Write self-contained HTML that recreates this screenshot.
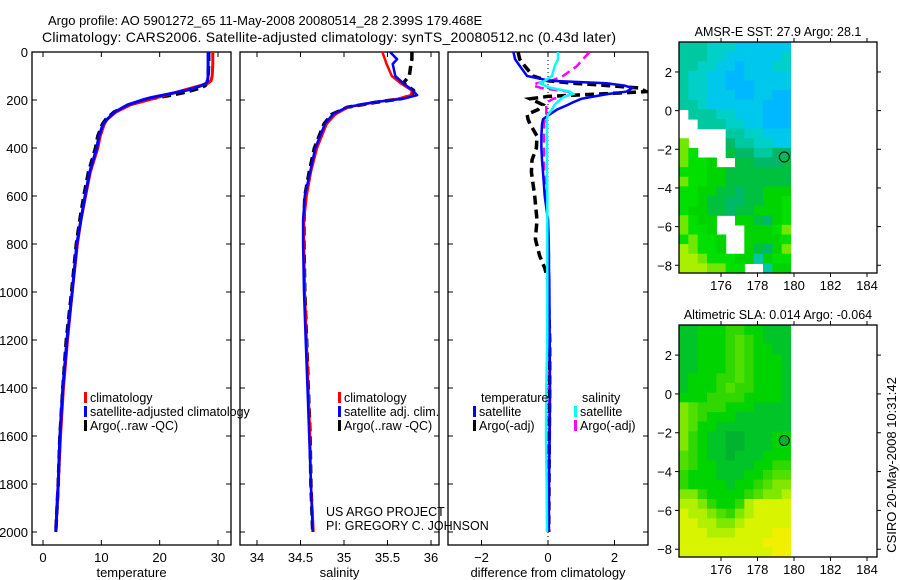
<!DOCTYPE html>
<html><head><meta charset="utf-8"><style>
html,body{margin:0;padding:0;background:#fff;}
svg{display:block;font-family:"Liberation Sans",sans-serif;}
</style></head><body>
<svg id="fig" width="900" height="580" viewBox="0 0 900 580" xmlns="http://www.w3.org/2000/svg">
<text x="48" y="25" font-size="13">Argo profile: AO 5901272_65 11-May-2008 20080514_28 2.399S 179.468E</text>
<text x="42" y="42" font-size="14" textLength="574">Climatology: CARS2006. Satellite-adjusted climatology: synTS_20080512.nc (0.43d later)</text>
<g id="layer"></g>
</svg>
<script>
// ---- profile data ----
const depthT = [0,50,100,120,130,140,150,160,170,180,190,200,220,250,280,300,350,400,500,600,700,800,1000,1200,1400,1600,1800,2000];
const tempClim = [29.1,29.1,29.0,28.8,28.3,27.0,25.5,24.0,22.5,21,19.5,18.0,15.0,12.5,11.0,10.5,9.8,9.4,8.1,7.3,6.5,5.9,5.0,4.2,3.5,3.0,2.6,2.2];
const tempSat = [28.3,28.3,28.3,28.2,28.0,27.2,26.0,24.5,22.5,20.5,18.5,17.0,14.5,12.3,11.0,10.3,9.6,9.2,8.0,7.2,6.5,5.8,5.0,4.1,3.4,2.9,2.6,2.2];
const tempArgo = [28.4,28.4,28.3,28.2,28.1,27.8,27.0,25.5,24.0,22.0,19.5,17.5,14.8,12.2,10.8,10.2,9.4,9.0,7.8,7.0,6.3,5.7,4.9,4.0,3.4,2.9,2.6,2.2];
const depthS = [0,30,50,100,130,160,180,195,210,230,260,300,400,500,600,700,800,1000,1200,1400,1600,1800,2000];
const salClim = [35.44,35.47,35.49,35.55,35.65,35.78,35.77,35.62,35.35,35.05,34.90,34.80,34.69,34.62,34.57,34.54,34.54,34.55,34.57,34.59,34.61,34.62,34.65];
const salSat = [35.53,35.61,35.56,35.59,35.68,35.79,35.84,35.68,35.33,35.03,34.87,34.78,34.67,34.61,34.55,34.53,34.53,34.54,34.56,34.58,34.60,34.62,34.64];
const salArgo = [35.78,35.78,35.77,35.75,35.68,35.80,35.78,35.65,35.36,35.04,34.86,34.77,34.66,34.60,34.55,34.54,34.54,34.55,34.57,34.59,34.61,34.62,34.64];
const depthD = [0,30,60,100,120,130,140,150,165,175,185,195,210,220,240,260,280,300,350,400,450,500,600,700,780,850,900,950,1200,1400,1600,1800,2000];
const dTsat = [-1.04,-0.99,-0.84,-0.63,0.06,1.76,2.3,2.54,2.36,1.8,1.4,1.0,0.75,0.6,0.27,0.05,-0.15,-0.18,-0.2,-0.2,-0.18,-0.15,-0.1,0,0.02,0.03,0.03,0.04,0.05,0.06,0.05,0.03,0.02];
const dTargo = [-0.9,-0.85,-0.69,-0.45,0,0.75,1.8,2.75,2.95,1.55,0,-0.54,-0.3,-0.15,-0.3,-0.63,-0.6,-0.54,-0.33,-0.35,-0.48,-0.5,-0.4,-0.33,-0.38,-0.25,-0.1,0,0.05,0.05,0.04,0.03,0.02];
const dSsat = [0.3,0.3,0.2,0.12,-0.1,-0.24,-0.1,0.1,0.66,0.75,0.5,0.4,0.27,0.2,0.12,0.0,-0.03,-0.03,-0.03,-0.03,-0.03,-0.03,-0.02,-0.02,-0.02,-0.02,-0.02,-0.02,-0.02,-0.05,-0.06,-0.04,-0.03];
const dSargo = [1.25,1.05,0.86,0.45,0.1,-0.33,-0.45,-0.2,0.6,0.75,0.5,0.15,-0.03,-0.05,-0.05,-0.05,-0.1,-0.12,-0.12,-0.12,-0.12,-0.12,-0.05,0,0,0,0,0.02,0.02,0.03,0.03,0.03,0.03];
const depthTicks = [0,200,400,600,800,1000,1200,1400,1600,1800,2000];
const tempTicks = [0,10,20,30];
const salTicks = [34,34.5,35,35.5,36];
const diffTicks = [-2,0,2];
// ---- map data (rows top->bottom, '.' = no data) ----
const sstRows = [
"666777888888","666778888887","667788988877","677889988888","677889998888","677888998899",
"667888888999",".66677888999","..6667788999",".....6677888","1....5667788","12...4556655",
"1223..445554","222334444444","122334444444","223344544333","223445544332","233445443332",
"1233..334532","1223...33321","21223..33332","01223..34531","001222336322","0001122..633"];
const slaRows = [
"776665566777","776665456777","776665456677","776665456667","776665456667","766655456667",
"766654556667","666555566667","345556667777","345666777777","346677777777","356778877766",
"356778877766","456778777666","456677776655","566677766544","566667665433","335666654332",
"223566521111","122345321111","112233211111","111222111100","111111111000","111111111100"];
const latTicks = [2,0,-2,-4,-6,-8];
const lonTicks = [176,178,180,182,184];
const argoLon = [179.468];
const argoLat = [-2.399];

const NS="http://www.w3.org/2000/svg";
const layer=document.getElementById('layer');
function mk(tag,attrs,parent){const e=document.createElementNS(NS,tag);for(const k in attrs)e.setAttribute(k,attrs[k]);(parent||layer).appendChild(e);return e;}

const yD = d => 52 + d*0.24;
const panels = [
 {name:'temperature',x0:32,x1:231,f:v=>43+v*(175/30),ticks:tempTicks,label:'temperature'},
 {name:'salinity',x0:240,x1:439,f:v=>257+(v-34)*87,ticks:salTicks,label:'salinity'},
 {name:'difference',x0:448,x1:648,f:v=>548+v*33.25,ticks:diffTicks,label:'difference from climatology'}
];
const PT=52,PB=545;
panels.forEach((p,i)=>{
  const g=mk('g',{});
  
  
  const r=mk('rect',{x:p.x0,y:PT,width:p.x1-p.x0,height:PB-PT,fill:'none',stroke:'#000','stroke-width':1.3},g);
  
  
  p.ticks.forEach(t=>{
    const x=p.f(t);
    mk('line',{x1:x,y1:PT,x2:x,y2:PT+5,stroke:'#000'},g);
    mk('line',{x1:x,y1:PB,x2:x,y2:PB-5,stroke:'#000'},g);
    const tx=mk('text',{x:x,y:562,'font-size':13,'text-anchor':'middle'},g);
    tx.textContent=(t===-2?'\u22122':String(t));
    
    
  });
  depthTicks.forEach(d=>{
    const y=yD(d);
    mk('line',{x1:p.x0,y1:y,x2:p.x0+5,y2:y,stroke:'#000'},g);
    mk('line',{x1:p.x1,y1:y,x2:p.x1-5,y2:y,stroke:'#000'},g);
    if(i===0){
      const tx=mk('text',{x:28,y:y+5,'font-size':13,'text-anchor':'end'},g);
      tx.textContent=String(d);
      
      
    }
  });
  const lab=mk('text',{x:(p.x0+p.x1)/2,y:577,'font-size':13,'text-anchor':'middle'},g);
  lab.textContent=p.label;
  
  
});

function line(xs,ds,f,color,w,dash,name){
  const pts=xs.map((v,i)=>f(v).toFixed(1)+','+yD(ds[i]).toFixed(1)).join(' ');
  const a={points:pts,fill:'none',stroke:color,'stroke-width':w,'stroke-linejoin':'round'};
  if(dash)a['stroke-dasharray']=dash;
  const e=mk('polyline',a);
  
  
}
const P=panels;
line(tempArgo,depthT,P[0].f,'#000',3.5,'9,5','temp-argo-line');
line(tempClim,depthT,P[0].f,'#f00',3,null,'temp-climatology-line');
line(tempSat,depthT,P[0].f,'#00f',3,null,'temp-satellite-line');
line(salArgo,depthS,P[1].f,'#000',3.5,'9,5','sal-argo-line');
line(salClim,depthS,P[1].f,'#f00',2.5,null,'sal-climatology-line');
line(salSat,depthS,P[1].f,'#00f',2.5,null,'sal-satellite-line');
const zl=mk('line',{x1:548,y1:PT,x2:548,y2:PB,stroke:'#000','stroke-width':1,'stroke-dasharray':'1,3'});


const clip=mk('clipPath',{id:'cp3'});mk('rect',{x:448,y:52,width:200,height:493},clip);
const g3=mk('g',{'clip-path':'url(#cp3)'});
function line3(xs,ds,color,w,dash,name){
  const pts=xs.map((v,i)=>P[2].f(v).toFixed(1)+','+yD(ds[i]).toFixed(1)).join(' ');
  const a={points:pts,fill:'none',stroke:color,'stroke-width':w};
  if(dash)a['stroke-dasharray']=dash;
  const e=mk('polyline',a,g3);
  
  
}
line3(dSargo,depthD,'#f0f',2.5,'9,5','sal-diff-argo-line');
line3(dTargo,depthD,'#000',3.5,'9,5','temp-diff-argo-line');
line3(dTsat,depthD,'#00f',2.5,null,'temp-diff-satellite-line');
line3(dSsat,depthD,'#0ff',2.5,null,'sal-diff-satellite-line');

function leg(x,y,color,text,name){
  const g=mk('g',{});
  
  
  if(color) mk('rect',{x:x,y:y-10,width:3,height:11,fill:color},g);
  const t=mk('text',{x:x+(color?6:0),y:y,'font-size':12.5},g);t.textContent=text;
}
leg(84,402,'#f00','climatology','legend-temp-climatology');
leg(84,416,'#00f','satellite-adjusted climatology','legend-temp-satellite');
leg(84,430,'#000','Argo(..raw -QC)','legend-temp-argo');
leg(338,402,'#f00','climatology','legend-sal-climatology');
leg(338,416,'#00f','satellite adj. clim.','legend-sal-satellite');
leg(338,430,'#000','Argo(..raw -QC)','legend-sal-argo');
leg(481,402,null,'temperature','legend-temp-header');
leg(473,416,'#00f','satellite','legend-dtemp-satellite');
leg(473,430,'#000','Argo(-adj)','legend-dtemp-argo');
leg(582,402,null,'salinity','legend-sal-header');
leg(574,416,'#0ff','satellite','legend-dsal-satellite');
leg(574,430,'#f0f','Argo(-adj)','legend-dsal-argo');
leg(326,516,null,'US ARGO PROJECT','project-credit');
leg(326,530,null,'PI: GREGORY C. JOHNSON','pi-credit');

const sstCol=['#a8f000','#70e800','#00e000','#00d400','#00c040','#00b868','#00c8a0','#00d0c8','#00c8ec','#00b8ff'];
const slaCol=['#f0f000','#d8f400','#b0f000','#80e800','#50e000','#30d800','#00d400','#00c428','#00b430'];
function drawMap(top,bottom,rows,cols,title,name,circleFill){
  const L=679,R=877;
  const xL=lon=>721+(lon-176)*18.25;
  const lat2y=top+ (bottom-top)*((3.55-2)/11.95);
  const yL=lat=>lat2y-(lat-2)*((bottom-top)/11.95);
  const g=mk('g',{});
  
  
  const nr=rows.length,nc=rows[0].length;
  const x0=L,x1=791,cw=(x1-x0)/nc,ch=(bottom-top)/nr;
  rows.forEach((row,ri)=>{
    for(let ci=0;ci<nc;ci++){
      const c=row[ci];if(c==='.')continue;
      const w=(ci===nc-1)?cw:cw+0.6;
      const e=mk('rect',{x:(x0+ci*cw).toFixed(2),y:(top+ri*ch).toFixed(2),width:w.toFixed(2),height:(ch+0.6).toFixed(2),fill:cols[+c]},g);
      
      
    }
  });
  mk('rect',{x:L,y:top,width:R-L,height:bottom-top,fill:'none',stroke:'#000','stroke-width':1.3},g);
  latTicks.forEach(t=>{
    const y=yL(t);
    mk('line',{x1:L-4,y1:y,x2:L,y2:y,stroke:'#000'},g);
    mk('line',{x1:R,y1:y,x2:R+4,y2:y,stroke:'#000'},g);
    const tx=mk('text',{x:672,y:y+5,'font-size':13,'text-anchor':'end'},g);
    tx.textContent=t<0?'\u2212'+(-t):String(t);
    
    
  });
  lonTicks.forEach(t=>{
    const x=xL(t);
    mk('line',{x1:x,y1:top-4,x2:x,y2:top,stroke:'#000'},g);
    mk('line',{x1:x,y1:bottom,x2:x,y2:bottom+4,stroke:'#000'},g);
    const tx=mk('text',{x:x,y:bottom+17,'font-size':13,'text-anchor':'middle'},g);
    tx.textContent=String(t);
    
    
  });
  const c=mk('circle',{cx:xL(argoLon[0]),cy:yL(argoLat[0]),r:5,fill:circleFill,stroke:'#000','stroke-width':1},g);
  
  
  const tt=mk('text',{x:778,y:top-6,'font-size':12.5,'text-anchor':'middle'},g);
  tt.textContent=title;
  
  
}
drawMap(42,273,sstRows,sstCol,'AMSR-E SST: 27.9 Argo: 28.1','sst-map','none');
drawMap(325,557,slaRows,slaCol,'Altimetric SLA: 0.014 Argo: -0.064','sla-map','#00b430');
const st=mk('text',{x:0,y:0,'font-size':13,'text-anchor':'middle',transform:'translate(896,465) rotate(-90)'});
st.textContent='CSIRO 20-May-2008 10:31:42';


</script>
</body></html>
